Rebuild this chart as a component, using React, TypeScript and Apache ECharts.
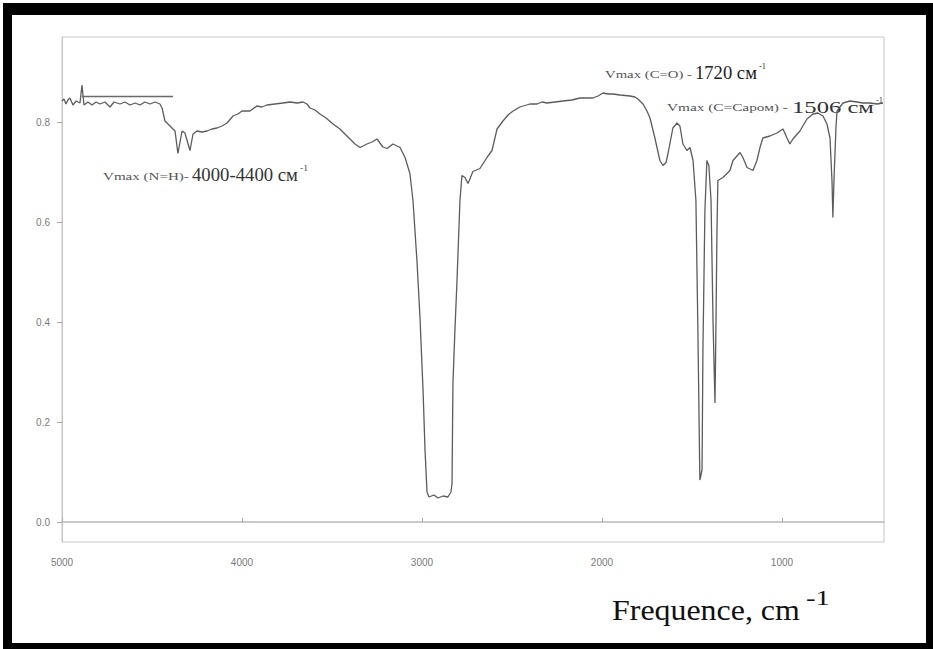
import React, { useEffect, useRef } from 'react';
import * as echarts from 'echarts';

// IR spectrum: wavenumber (cm-1) and transmittance
const wavenumbers = [
  5000, 4989, 4978, 4967, 4956, 4939, 4922, 4900, 4889, 4878, 4856, 4833, 4811, 4789, 4761, 4733, 4711,
  4678, 4650, 4622, 4594, 4567, 4539, 4511, 4483, 4456, 4444, 4428, 4400, 4372, 4356, 4333, 4317, 4289,
  4272, 4250, 4222, 4194, 4167, 4139, 4111, 4083, 4050, 4022, 4000, 3956, 3917, 3889, 3861, 3817, 3772,
  3733, 3694, 3661, 3639, 3622, 3594, 3567, 3533, 3494, 3456, 3400, 3372, 3344, 3306, 3278, 3250, 3217,
  3194, 3161, 3122, 3094, 3067, 3050, 3028, 3011, 2994, 2983, 2972, 2961, 2933, 2911, 2883, 2856, 2839,
  2833, 2828, 2817, 2806, 2789, 2778, 2761, 2744, 2717, 2678, 2639, 2611, 2583, 2550, 2522, 2494, 2456,
  2400, 2361, 2333, 2306, 2261, 2217, 2167, 2122, 2083, 2050, 2022, 1994, 1967, 1939, 1900, 1844, 1817,
  1800, 1772, 1750, 1733, 1706, 1678, 1661, 1644, 1633, 1606, 1583, 1567, 1550, 1528, 1511, 1494, 1478,
  1467, 1456, 1444, 1439, 1428, 1417, 1406, 1394, 1383, 1372, 1367, 1361, 1356, 1328, 1289, 1272, 1233,
  1217, 1194, 1161, 1139, 1122, 1106, 1067, 1028, 994, 972, 956, 939, 900, 861, 828, 800, 772, 750, 733,
  722, 717, 711, 700, 694, 661, 622, 583, 550, 511, 472, 439,
];
const transmittance = [
  0.842, 0.846, 0.836, 0.844, 0.848, 0.834, 0.842, 0.838, 0.874, 0.834, 0.84, 0.834, 0.84, 0.836, 0.84,
  0.83, 0.84, 0.836, 0.84, 0.834, 0.838, 0.834, 0.84, 0.836, 0.84, 0.836, 0.828, 0.802, 0.792, 0.782,
  0.737, 0.782, 0.778, 0.743, 0.776, 0.782, 0.78, 0.782, 0.786, 0.788, 0.792, 0.798, 0.812, 0.816, 0.822,
  0.822, 0.832, 0.83, 0.834, 0.836, 0.838, 0.84, 0.838, 0.84, 0.836, 0.828, 0.824, 0.816, 0.808, 0.796,
  0.786, 0.766, 0.756, 0.749, 0.756, 0.76, 0.766, 0.75, 0.747, 0.756, 0.749, 0.729, 0.697, 0.643, 0.523,
  0.409, 0.263, 0.144, 0.06, 0.05, 0.054, 0.048, 0.052, 0.05, 0.06, 0.078, 0.277, 0.383, 0.477, 0.643,
  0.693, 0.689, 0.677, 0.701, 0.707, 0.729, 0.743, 0.786, 0.802, 0.814, 0.822, 0.83, 0.836, 0.836, 0.84,
  0.838, 0.84, 0.842, 0.844, 0.848, 0.848, 0.848, 0.852, 0.858, 0.856, 0.856, 0.854, 0.852, 0.85, 0.846,
  0.836, 0.822, 0.808, 0.768, 0.723, 0.713, 0.719, 0.737, 0.788, 0.798, 0.792, 0.756, 0.743, 0.749, 0.723,
  0.643, 0.383, 0.084, 0.104, 0.343, 0.623, 0.723, 0.713, 0.643, 0.403, 0.238, 0.383, 0.583, 0.683, 0.689,
  0.703, 0.723, 0.739, 0.729, 0.709, 0.703, 0.723, 0.749, 0.768, 0.772, 0.778, 0.786, 0.768, 0.756, 0.766,
  0.782, 0.806, 0.816, 0.818, 0.812, 0.796, 0.768, 0.683, 0.609, 0.683, 0.788, 0.822, 0.838, 0.842, 0.84,
  0.838, 0.838, 0.836, 0.838,
];
// horizontal baseline marker drawn at the start of the record
const markerWavenumbers = [4889, 4383];
const markerValues = [0.851, 0.851];

const xTickValues = [5000, 4000, 3000, 2000, 1000];
const yTickValues = [0, 0.2, 0.4, 0.6, 0.8];

const serif = '"Liberation Serif", "Times New Roman", serif';

let measureCtx: CanvasRenderingContext2D | null = null;
function measure(text: string, fontSize: number): number {
  if (!measureCtx) measureCtx = document.createElement('canvas').getContext('2d');
  if (!measureCtx) return text.length * fontSize * 0.5;
  measureCtx.font = `${fontSize}px ${serif}`;
  return measureCtx.measureText(text).width;
}

// text stretched horizontally to the width it takes in the scanned picture
function fitText(text: string, x: number, y: number, width: number, fontSize: number, fill: string) {
  const w = measure(text, fontSize);
  return {
    type: 'text',
    x,
    y,
    scaleX: w > 0 ? width / w : 1,
    style: {
      text,
      fontSize,
      fontFamily: serif,
      fill,
      verticalAlign: 'middle',
      textVerticalAlign: 'middle',
    },
  };
}

export default function App() {
  const ref = useRef<HTMLDivElement>(null);

  useEffect(() => {
    const chart = echarts.init(ref.current as HTMLDivElement, null, { renderer: 'svg' });
    const spectrum = wavenumbers.map((w, i) => [w, transmittance[i]]);
    const marker = markerWavenumbers.map((w, i) => [w, markerValues[i]]);

    chart.setOption({
      animation: false,
      backgroundColor: '#ffffff',
      grid: {
        left: 62,
        top: 37,
        width: 822,
        height: 505,
        show: true,
        borderColor: '#c6c6c6',
        borderWidth: 1,
        backgroundColor: 'transparent',
      },
      xAxis: {
        type: 'value',
        inverse: true,
        min: 433,
        max: 5000,
        axisLine: { show: true, lineStyle: { color: '#b8b8b8', width: 1.5 } },
        axisTick: {
          show: true,
          inside: true,
          length: 4,
          customValues: xTickValues,
          lineStyle: { color: '#aaa' },
        },
        axisLabel: {
          customValues: xTickValues,
          formatter: (v: number) => String(v),
          color: '#7a7a7a',
          fontSize: 10,
          fontFamily: '"Liberation Sans", Arial, sans-serif',
          margin: 15,
          showMinLabel: true,
          showMaxLabel: true,
        },
        splitLine: { show: false },
      },
      yAxis: {
        type: 'value',
        min: -0.04,
        max: 0.97,
        axisLine: { show: true, lineStyle: { color: '#c6c6c6' } },
        axisTick: {
          show: true,
          length: 5,
          customValues: yTickValues,
          lineStyle: { color: '#aaa' },
        },
        axisLabel: {
          customValues: yTickValues,
          formatter: (v: number) => v.toFixed(1),
          color: '#7a7a7a',
          fontSize: 10,
          fontFamily: '"Liberation Sans", Arial, sans-serif',
          margin: 12,
        },
        splitLine: { show: false },
      },
      series: [
        {
          type: 'line',
          data: spectrum,
          symbol: 'none',
          lineStyle: { color: '#5c5c5c', width: 1.3 },
          silent: true,
        },
        {
          type: 'line',
          data: marker,
          symbol: 'none',
          lineStyle: { color: '#6a6a6a', width: 1.6 },
          silent: true,
        },
      ],
      graphic: [
        { type: 'rect', shape: { x: 3, y: 3, width: 930, height: 12 }, style: { fill: '#000' } },
        { type: 'rect', shape: { x: 3, y: 3, width: 9, height: 646 }, style: { fill: '#000' } },
        { type: 'rect', shape: { x: 926, y: 3, width: 7, height: 646 }, style: { fill: '#000' } },
        { type: 'rect', shape: { x: 3, y: 643, width: 930, height: 6 }, style: { fill: '#000' } },

        fitText('Vmax (N=H)-', 103, 177, 86, 10, '#555'),
        fitText('4000-4400 cм', 192, 175, 106, 18, '#333'),
        fitText('-1', 300, 168, 8, 9, '#444'),

        fitText('Vmax (C=O) -', 605, 75, 87, 10, '#555'),
        fitText('1720 cм', 695, 73, 62, 18, '#222'),
        fitText('-1', 759, 66, 7, 9, '#333'),

        fitText('Vmax (C=Cаром) -', 667, 108, 121, 10, '#555'),
        fitText('1506 cм', 792, 107, 82, 17, '#333'),
        fitText('-1', 876, 100, 7, 9, '#444'),

        fitText('Frequence, cm', 612, 610, 188, 29, '#111'),
        fitText('-1', 806, 598, 24, 20, '#111'),
      ],
    });

    return () => chart.dispose();
  }, []);

  return (
    <div
      ref={ref}
      style={{ position: 'absolute', left: 0, top: 0, width: 933, height: 649, background: '#fff' }}
    />
  );
}
